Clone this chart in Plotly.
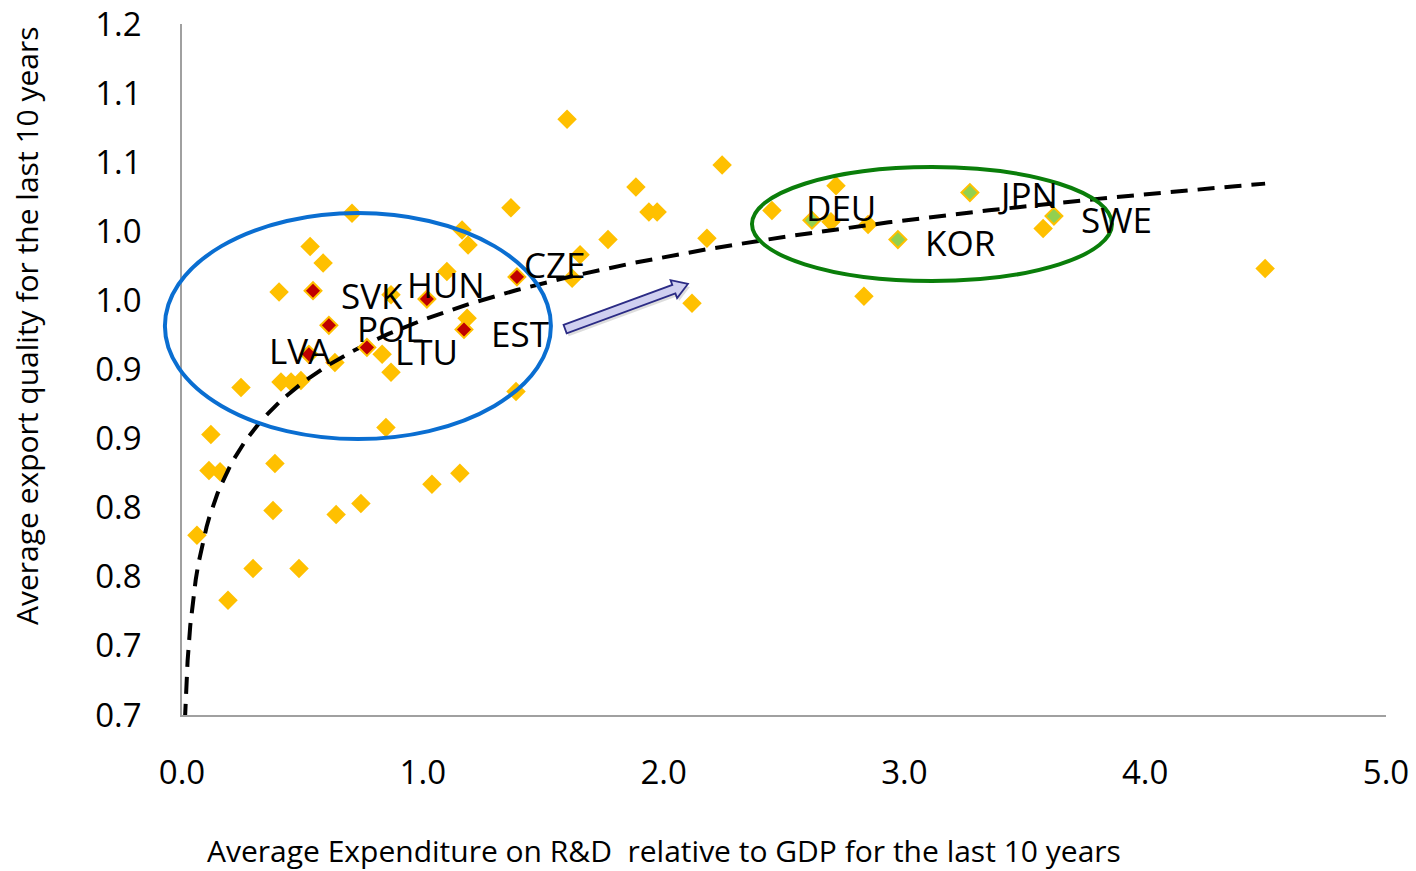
import numpy as np
import plotly.graph_objects as go

# --- data -----------------------------------------------------------------
# Other countries: R&D expenditure (% of GDP) and export quality
other_rd = [1.599, 2.243, 1.885, 2.716, 1.366, 1.939, 1.973, 2.450, 0.706, 1.163,
            0.532, 1.188, 1.769, 2.180, 0.586, 1.653, 1.100, 1.620, 0.403, 0.868,
            2.118, 2.832, 1.184, 0.635, 0.831, 0.868, 0.411, 0.453, 0.494, 0.245,
            1.387, 0.847, 0.120, 0.386, 0.112, 0.158, 1.154, 1.038, 0.743, 0.640,
            0.378, 0.062, 0.295, 0.486, 0.191, 4.498, 2.695, 2.849, 3.576]
other_quality = [1.131, 1.098, 1.082, 1.083, 1.067, 1.064, 1.064, 1.065, 1.063, 1.051,
                 1.039, 1.040, 1.044, 1.045, 1.027, 1.033, 1.021, 1.016, 1.006, 1.004,
                 0.998, 1.003, 0.987, 0.955, 0.961, 0.948, 0.941, 0.941, 0.942, 0.937,
                 0.934, 0.908, 0.903, 0.882, 0.877, 0.876, 0.875, 0.867, 0.853, 0.845,
                 0.848, 0.830, 0.806, 0.806, 0.783, 1.023, 1.057, 1.055, 1.052]

# Central and Eastern European economies
cee_names = ["SVK", "HUN", "CZE", "POL", "LTU", "EST", "LVA"]
cee_rd = [0.544, 1.017, 1.391, 0.610, 0.768, 1.171, 0.527]
cee_quality = [1.007, 1.001, 1.017, 0.982, 0.966, 0.979, 0.961]
cee_label_shift = [(26, -5), (-22, 15), (5, 12), (26, -3), (26, -4), (25, -4), (-42, 4)]

# Leading innovators
lead_names = ["DEU", "KOR", "JPN", "SWE"]
lead_rd = [2.616, 2.973, 3.272, 3.621]
lead_quality = [1.058, 1.044, 1.078, 1.061]
lead_label_shift = [(-8, 13), (25, -3), (26, -2), (25, -3)]

# Axis ticks
x_ticks = [0, 1, 2, 3, 4, 5]
x_tick_text = ["0.0", "1.0", "2.0", "3.0", "4.0", "5.0"]
y_ticks = [0.70, 0.75, 0.80, 0.85, 0.90, 0.95, 1.00, 1.05, 1.10, 1.15, 1.20]
y_tick_text = ["0.7", "0.7", "0.8", "0.8", "0.9", "0.9", "1.0", "1.0", "1.1", "1.1", "1.2"]

X_RANGE = [0.0, 5.0]
Y_RANGE = [0.7, 1.2]
TREND_X_START = 0.012

# --- layout geometry ------------------------------------------------------
W, H = 1416, 871
M_L, M_R, M_T, M_B = 182, 30, 24, 156
PLOT_W = W - M_L - M_R
PLOT_H = H - M_T - M_B
PX_PER_X = PLOT_W / (X_RANGE[1] - X_RANGE[0])
PX_PER_Y = PLOT_H / (Y_RANGE[1] - Y_RANGE[0])

FONT = "Open Sans"
YELLOW = "#FFC000"

# --- logarithmic trend line fitted on all countries -----------------------
all_x = np.array(other_rd + cee_rd + lead_rd)
all_y = np.array(other_quality + cee_quality + lead_quality)
slope, intercept = np.polyfit(np.log(all_x), all_y, 1)
trend_x = np.linspace(TREND_X_START, all_x.max(), 400)
trend_y = intercept + slope * np.log(trend_x)

fig = go.Figure()

fig.add_trace(go.Scatter(
    x=other_rd, y=other_quality, mode="markers",
    marker=dict(symbol="diamond", size=15, color=YELLOW, line=dict(width=0)),
    hoverinfo="skip", showlegend=False))

fig.add_trace(go.Scatter(
    x=trend_x, y=trend_y, mode="lines",
    line=dict(color="black", width=4, dash="17px,10px"),
    hoverinfo="skip", showlegend=False))

fig.add_trace(go.Scatter(
    x=cee_rd, y=cee_quality, mode="markers",
    marker=dict(symbol="diamond", size=13, color="#C00000",
                line=dict(width=2, color=YELLOW)),
    hoverinfo="skip", showlegend=False))

fig.add_trace(go.Scatter(
    x=lead_rd, y=lead_quality, mode="markers",
    marker=dict(symbol="diamond", size=13, color="#92D050",
                line=dict(width=2, color=YELLOW)),
    hoverinfo="skip", showlegend=False))

annotations = []
for names, xs, ys, shifts in [(cee_names, cee_rd, cee_quality, cee_label_shift),
                              (lead_names, lead_rd, lead_quality, lead_label_shift)]:
    for n, x, y, (sx, sy) in zip(names, xs, ys, shifts):
        annotations.append(dict(
            x=x, y=y, xref="x", yref="y", text=n, showarrow=False,
            xanchor="left", yanchor="middle", xshift=sx, yshift=sy,
            font=dict(family=FONT, size=35, color="black")))

# Axis titles
annotations.append(dict(
    text="Average Expenditure on R&amp;D\u00a0 relative to GDP for the last 10 years",
    xref="paper", yref="paper", x=(664 - M_L) / PLOT_W, y=(M_T + PLOT_H - 850) / PLOT_H,
    xanchor="center", yanchor="middle", showarrow=False, borderpad=0,
    font=dict(family=FONT, size=30, color="black")))
annotations.append(dict(
    text="Average export quality for the last 10 years",
    xref="paper", yref="paper", x=(27 - M_L) / PLOT_W, y=(M_T + PLOT_H - 326) / PLOT_H,
    xanchor="center", yanchor="middle", textangle=-90, showarrow=False,
    font=dict(family=FONT, size=30, color="black")))


def to_paper_x(v):
    return (v - X_RANGE[0]) / (X_RANGE[1] - X_RANGE[0])


def to_paper_y(v):
    return (v - Y_RANGE[0]) / (Y_RANGE[1] - Y_RANGE[0])


# Group outlines
groups = [
    dict(x0=-0.071, x1=1.532, y0=0.8997, y1=1.0632, color="#0A6ED1"),
    dict(x0=2.367, x1=3.862, y0=1.0140, y1=1.0965, color="#0A7E0A"),
]
shapes = []
for g in groups:
    shapes.append(dict(
        type="circle", xref="paper", yref="paper",
        x0=to_paper_x(g["x0"]), x1=to_paper_x(g["x1"]),
        y0=to_paper_y(g["y0"]), y1=to_paper_y(g["y1"]),
        line=dict(color=g["color"], width=4), layer="above"))

# Block arrow from the CEE group towards the leaders
arrow_start = (1.591, 0.9793)
arrow_end = (2.101, 1.0119)


def block_arrow(start, end, half_shaft=4.5, half_head=9.5, head_len=15, off=(0, 0)):
    dx = (end[0] - start[0]) * PX_PER_X
    dy = (end[1] - start[1]) * PX_PER_Y
    length = np.hypot(dx, dy)
    ux, uy = dx / length, dy / length
    nx, ny = -uy, ux
    base = length - head_len
    pts = [
        (nx * half_shaft, ny * half_shaft),
        (ux * base + nx * half_shaft, uy * base + ny * half_shaft),
        (ux * base + nx * half_head, uy * base + ny * half_head),
        (ux * length, uy * length),
        (ux * base - nx * half_head, uy * base - ny * half_head),
        (ux * base - nx * half_shaft, uy * base - ny * half_shaft),
        (-nx * half_shaft, -ny * half_shaft),
    ]
    coords = []
    for px, py in pts:
        xd = start[0] + (px + off[0]) / PX_PER_X
        yd = start[1] + (py + off[1]) / PX_PER_Y
        coords.append(f"{to_paper_x(xd):.5f},{to_paper_y(yd):.5f}")
    return "M" + " L".join(coords) + " Z"


shapes.append(dict(type="path", xref="paper", yref="paper",
                   path=block_arrow(arrow_start, arrow_end, off=(2, -3)),
                   fillcolor="rgba(120,120,120,0.25)", line=dict(width=0), layer="above"))
shapes.append(dict(type="path", xref="paper", yref="paper",
                   path=block_arrow(arrow_start, arrow_end),
                   fillcolor="#CFCFF0", line=dict(color="#2B2B85", width=1.8), layer="above"))

fig.update_layout(
    width=W, height=H,
    margin=dict(l=M_L, r=M_R, t=M_T, b=M_B, autoexpand=False),
    paper_bgcolor="white", plot_bgcolor="white",
    annotations=annotations, shapes=shapes,
    xaxis=dict(range=X_RANGE, tickvals=x_ticks, ticktext=x_tick_text,
               showgrid=False, zeroline=False, showline=True, automargin=False,
               linecolor="#A0A0A0", linewidth=1.5, ticks="",
               ticklabelstandoff=28,
               tickfont=dict(family=FONT, size=33, color="black")),
    yaxis=dict(range=Y_RANGE, tickvals=y_ticks, ticktext=y_tick_text,
               showgrid=False, zeroline=False, showline=True, automargin=False,
               linecolor="#A0A0A0", linewidth=1.5, ticks="",
               ticklabelstandoff=32,
               tickfont=dict(family=FONT, size=33, color="black")),
)

fig.write_html("out.html")
